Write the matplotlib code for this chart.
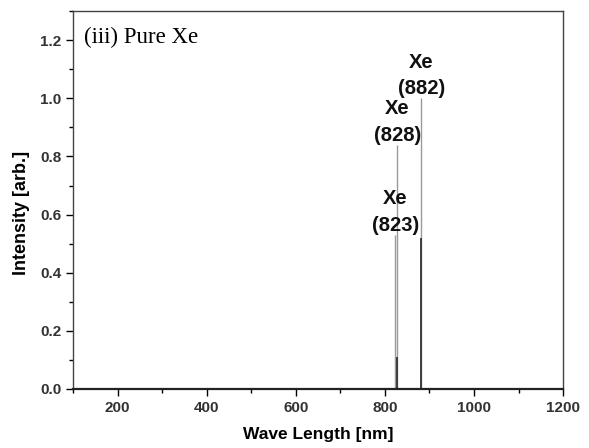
import matplotlib
matplotlib.use('Agg')
import matplotlib.pyplot as plt
from matplotlib.ticker import MultipleLocator

# 线谱数据 (nm, 强度)
peak_wl = [823, 828, 882]
peak_int = [0.53, 0.84, 1.0]
peak_labels = ['Xe\n(823)', 'Xe\n(828)', 'Xe\n(882)']
# 叠加的较暗谱线
dark_wl = [823, 828, 882]
dark_int = [0.0, 0.11, 0.52]

plt.rcParams['font.family'] = ['Liberation Sans', 'DejaVu Sans']

fig = plt.figure(figsize=(5.89, 4.48), dpi=100)
ax = fig.add_axes([0.124, 0.132, 0.832, 0.843])

ax.vlines(peak_wl, 0, peak_int, color='#9a9a9a', linewidth=1.0)
ax.vlines(dark_wl, 0, dark_int, color='#333333', linewidth=1.3)

for x, y, lab in zip(peak_wl, peak_int, peak_labels):
    ax.text(x, y, lab, ha='center', va='bottom', fontsize=14.5,
            fontweight='bold', linespacing=1.5, color='#111111')

ax.text(0.022, 0.93, '(iii) Pure Xe', transform=ax.transAxes,
        family='Liberation Serif', fontsize=16.5, va='center', ha='left')

ax.set_xlim(100, 1200)
ax.set_ylim(0, 1.3)
ax.xaxis.set_major_locator(MultipleLocator(200))
ax.xaxis.set_minor_locator(MultipleLocator(100))
ax.yaxis.set_major_locator(MultipleLocator(0.2))
ax.yaxis.set_minor_locator(MultipleLocator(0.1))
ax.set_yticks([0.0, 0.2, 0.4, 0.6, 0.8, 1.0, 1.2])
ax.yaxis.set_major_formatter(plt.FuncFormatter(lambda v, p: f'{v:.1f}'))
ax.tick_params(which='major', direction='out', length=5, width=1, labelsize=11,
               top=False, right=False)
ax.tick_params(which='minor', direction='out', length=3, width=1,
               top=False, right=False)
for lbl in ax.get_xticklabels() + ax.get_yticklabels():
    lbl.set_fontweight('bold')
    lbl.set_color('#333333')

for s in ax.spines.values():
    s.set_linewidth(1.0)
    s.set_color('#444444')
ax.spines['bottom'].set_linewidth(1.6)
ax.spines['bottom'].set_color('#222222')

ax.set_xlabel('Wave Length [nm]', fontsize=12.5, fontweight='bold', labelpad=9)
ax.set_ylabel('Intensity [arb.]', fontsize=13, fontweight='bold')
ax.yaxis.set_label_coords(-0.087, 0.465)

fig.savefig('out.png', dpi=100)
